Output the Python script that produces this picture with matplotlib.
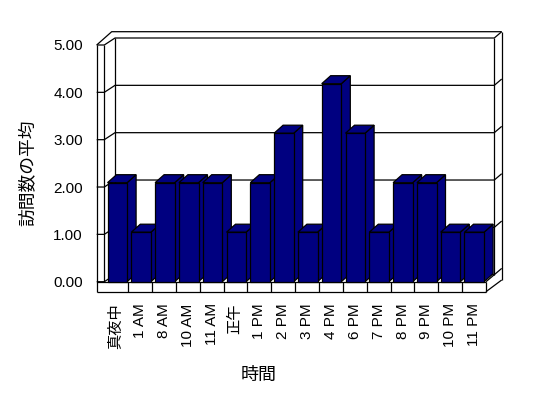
import matplotlib
matplotlib.use("Agg")
import matplotlib.pyplot as plt
from matplotlib.patches import Polygon

plt.rcParams['font.family'] = ['Liberation Sans', 'Noto Sans CJK JP']

# ---- data ----
categories = ["真夜中", "1 AM", "8 AM", "10 AM", "11 AM", "正午", "1 PM", "2 PM",
              "3 PM", "4 PM", "6 PM", "7 PM", "8 PM", "9 PM", "10 PM", "11 PM"]
values = [2, 1, 2, 2, 2, 1, 2, 3, 1, 4, 3, 1, 2, 2, 1, 1]
yticks = [0, 1, 2, 3, 4, 5]
ylabel = "訪問数の平均"
xlabel = "時間"

W, H = 548, 398
fig = plt.figure(figsize=(W / 100, H / 100), dpi=100)
fig.patch.set_facecolor("white")

def fx(px):
    return px / W

def fy(py):
    return 1 - py / H

n = len(categories)
BAR = "#000080"
LW = 0.9

# ---- frame axes (walls, floor, gridlines, ticks) ----
fl, fr, ft, fb = 104.3, 486.0, 45.0, 281.7
axf = fig.add_axes([fx(fl), fy(fb), (fr - fl) / W, (fb - ft) / H])
axf.set_xlim(-0.5, n - 0.5)
axf.set_ylim(yticks[0], yticks[-1])
sx = (fr - fl) / n
sy = (fb - ft) / (yticks[-1] - yticks[0])
for s in axf.spines.values():
    s.set_visible(False)
axf.patch.set_visible(False)

WALL = 7.6 / sx
DXL = 10.7 / sx
DY = 7.0 / sy
OUTY = 6.3 / sy
FLOOR = 10.0 / sy
xLo = -0.5 - WALL
xLi = -0.5
xBL = -0.5 + DXL
xBR = (n - 0.5) + 8.3 / sx
xOR = xBR + 7.4 / sx
xTo = -0.5 + (111.7 - fl) / sx
ytop = yticks[-1]

def line(xs, ys):
    axf.plot(xs, ys, color="black", lw=LW, clip_on=False, solid_capstyle="butt")

for v in yticks:
    line([xLo, xLi, xBL, xBR, xOR], [v, v, v + DY, v + DY, v + DY + OUTY])
# top outer edge
line([xLo, xTo, xOR], [ytop, ytop + DY + OUTY, ytop + DY + OUTY])
# verticals
line([xLo, xLo], [-FLOOR, ytop])
line([xLi, xLi], [0, ytop])
line([xBL, xBL], [DY, ytop + DY])
line([xBR, xBR], [DY, ytop + DY])
line([xOR, xOR], [1.7 / sy, ytop + DY + OUTY])
# floor
line([xLo, n - 0.5], [0, 0])
line([xLo, n - 0.5], [-FLOOR, -FLOOR])
line([n - 0.5, n - 0.5], [-FLOOR, 0])
line([n - 0.5, xBR], [0, DY])
line([n - 0.5, xOR], [-FLOOR, 1.7 / sy])
for i in range(n - 1):
    line([i + 0.5, i + 0.5], [-FLOOR, 0])

axf.set_yticks(yticks)
axf.set_yticklabels([f"{v:.2f}" for v in yticks], fontsize=11)
axf.set_xticks(range(n))
axf.set_xticklabels(categories, rotation=90, fontsize=11, va="top", ha="center")
axf.tick_params(axis="y", length=0, pad=(fl - 83) * 0.72)
axf.tick_params(axis="x", length=0, pad=(303.3 - fb) * 0.72)

fig.text(fx(28), fy(173), ylabel, rotation=90, ha="center", va="center", fontsize=12.8,
         family=["Noto Sans CJK JP"])
fig.text(fx(258.5), fy(375), xlabel, ha="center", va="center", fontsize=13,
         family=["Noto Sans CJK JP"])

# ---- bars axes ----
bl, br, bt, bb = 105.4, 486.2, 34.2, 281.7
axb = fig.add_axes([fx(bl), fy(bb), (br - bl) / W, (bb - bt) / H])
axb.set_xlim(-0.5, n - 0.5)
axb.set_ylim(yticks[0], yticks[-1])
axb.axis("off")
bsx = (br - bl) / n
bsy = (bb - bt) / (yticks[-1] - yticks[0])
hw = 9.8 / bsx
ddx = 9.0 / bsx
ddy = 8.0 / bsy

for i, v in enumerate(values):
    front = [(i - hw, 0), (i + hw, 0), (i + hw, v), (i - hw, v)]
    top = [(i - hw, v), (i + hw, v), (i + hw + ddx, v + ddy), (i - hw + ddx, v + ddy)]
    side = [(i + hw, 0), (i + hw + ddx, ddy), (i + hw + ddx, v + ddy), (i + hw, v)]
    for pts in (side, top, front):
        axb.add_patch(Polygon(pts, closed=True, facecolor=BAR, edgecolor="black",
                              lw=LW, clip_on=False, joinstyle="miter"))

fig.savefig("out.png", dpi=100, facecolor="white")
